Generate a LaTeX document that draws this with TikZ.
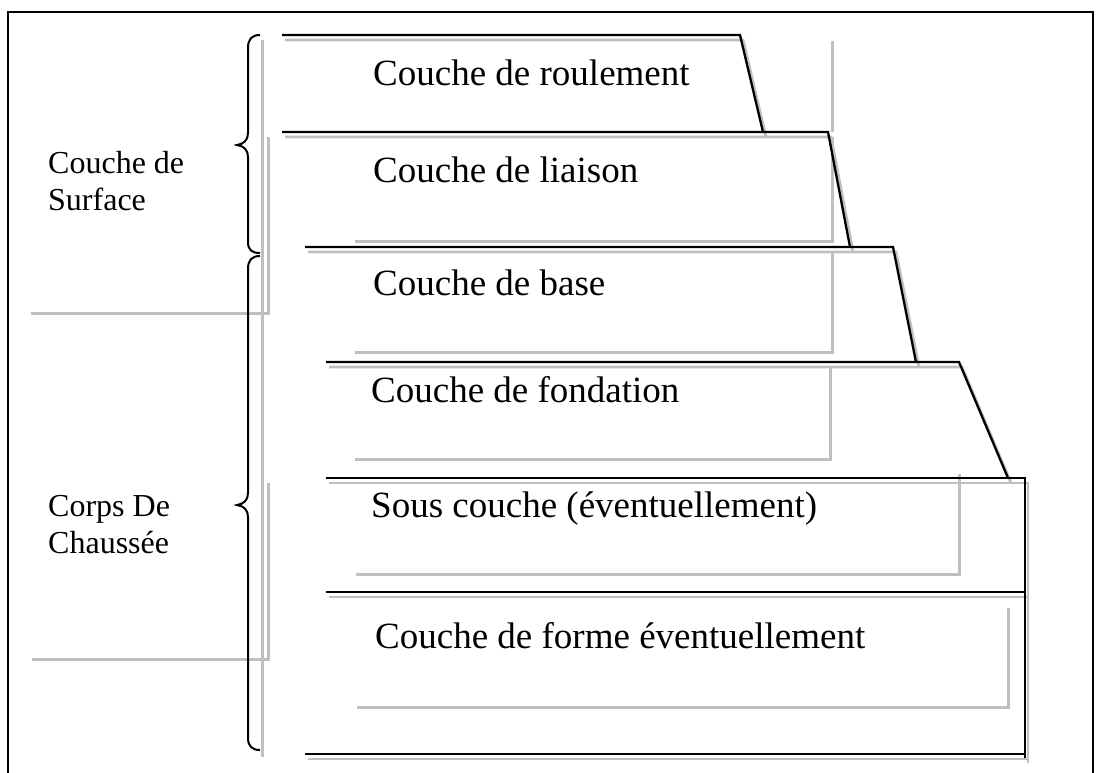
\documentclass[tikz,border=0pt]{standalone}
\usepackage{fontspec}
\setmainfont{Liberation Serif}
\begin{document}
\begin{tikzpicture}[x=1pt,y=-1pt,
  frameline/.style={line width=2.4pt,black},
  layerline/.style={line width=2.3pt,black,line join=miter},
  layershadow/.style={line width=2.8pt,black!25,line join=miter},
  boxshadow/.style={line width=3pt,black!25},
  bracestyle/.style={line width=2pt,black},
  layertext/.style={anchor=base west,inner sep=0pt,font=\fontsize{37}{44}\selectfont},
  sidetext/.style={anchor=base west,inner sep=0pt,align=left,font=\fontsize{32}{37}\selectfont}]
\useasboundingbox (0,0) rectangle (1102,772);
\fill[white] (0,0) rectangle (1102,772);
% outer frame
\draw[frameline] (8,773) -- (8,12) -- (1093,12) -- (1093,773);
% text box shadows (gray)
\draw[boxshadow] (262,40) -- (262,757);
\draw[boxshadow] (268,137) -- (268,313) -- (31,313);
\draw[boxshadow] (268,483) -- (268,659) -- (32,659);
\draw[boxshadow] (832,41) -- (832,132);
\draw[boxshadow] (832,137) -- (832,241) -- (355,241);
\draw[boxshadow] (832,253) -- (832,352) -- (355,352);
\draw[boxshadow] (830,366) -- (830,459) -- (355,459);
\draw[boxshadow] (959,474) -- (959,574) -- (356,574);
\draw[boxshadow] (1008,608) -- (1008,707) -- (357,707);
% layer shadows
\begin{scope}[shift={(3,5)}]
\draw[layershadow] (282,35) -- (740,35) -- (763,132);
\draw[layershadow] (282,132) -- (828,132) -- (850,247);
\draw[layershadow] (305,247) -- (893,247) -- (916,362);
\draw[layershadow] (326,362) -- (959,362) -- (1008,478);
\draw[layershadow] (326,478) -- (1025,478) -- (1025,758);
\draw[layershadow] (326,592) -- (1025,592);
\draw[layershadow] (305,754) -- (1025,754);
\end{scope}
% layers
\draw[layerline] (282,35) -- (740,35) -- (763,132);
\draw[layerline] (282,132) -- (828,132) -- (850,247);
\draw[layerline] (305,247) -- (893,247) -- (916,362);
\draw[layerline] (326,362) -- (959,362) -- (1008,478);
\draw[layerline] (326,478) -- (1025,478) -- (1025,758);
\draw[layerline] (326,592) -- (1025,592);
\draw[layerline] (305,754) -- (1025,754);
% braces
\draw[bracestyle] (260,35) .. controls (252,35) and (248,39) .. (248,48) -- (248,133)
  .. controls (248,140) and (244,144) .. (237,145)
  .. controls (244,146) and (248,150) .. (248,157) -- (248,242)
  .. controls (248,250) and (252,253) .. (260,253);
\draw[bracestyle] (260,256) .. controls (252,256) and (248,260) .. (248,269) -- (248,493)
  .. controls (248,500) and (244,504) .. (237,505)
  .. controls (244,506) and (248,510) .. (248,517) -- (248,738)
  .. controls (248,746) and (252,750) .. (260,750);
% texts
\node[layertext] (t1) at (373,85) {Couche de roulement};
\node[layertext] (t2) at (373,182) {Couche de liaison};
\node[layertext] (t3) at (373,295) {Couche de base};
\node[layertext] (t4) at (371,402) {Couche de fondation};
\node[layertext] (t5) at (371,517) {Sous couche (éventuellement)};
\node[layertext] (t6) at (375,648) {Couche de forme éventuellement};
\node[sidetext] (s1) at (48,210) {Couche de\\Surface};
\node[sidetext] (s2) at (48,553) {Corps De\\Chaussée};
\end{tikzpicture}
\end{document}
